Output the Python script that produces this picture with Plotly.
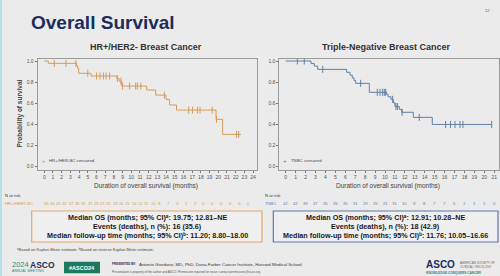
import numpy as np
import plotly.graph_objects as go

# ---------------- data ----------------
hr_times = [0, 0.46, 3.72, 3.84, 3.95, 5.37, 8.35, 8.6, 8.9, 11.77, 12.8, 13.99, 14.4, 15.2, 19.74, 20.5, 22.6]
hr_surv = [1.0, 0.978, 0.955, 0.93, 0.884, 0.858, 0.835, 0.81, 0.763, 0.726, 0.678, 0.637, 0.584, 0.536, 0.448, 0.306, 0.306]
hr_censor = [1.15, 2.5, 3.64, 5.0, 6.0, 6.4, 6.8, 7.1, 7.5, 8.4, 8.8, 9.0, 9.8, 10.5, 10.7, 11.1,
             13.8, 16.6, 17.05, 17.6, 17.9, 19.3, 19.8, 22.1, 22.35]

tn_times = [0, 2.55, 2.88, 3.22, 6.14, 6.47, 6.7, 6.88, 7.05, 8.42, 10.17, 10.3, 10.6, 10.83, 11.0, 11.44, 11.68, 12.85, 14.76, 20.74]
tn_surv = [1.0, 0.976, 0.952, 0.921, 0.893, 0.867, 0.84, 0.815, 0.789, 0.704, 0.685, 0.662, 0.638, 0.605, 0.57, 0.543, 0.515, 0.467, 0.40, 0.40]
tn_censor = [1.17, 1.87, 3.73, 7.55, 9.22, 9.5, 9.76, 9.93, 10.07, 10.77, 11.1, 11.25, 11.72,
             13.45, 16.1, 16.6, 17.05, 17.55, 17.85, 20.74]

hr_ticks = list(range(0, 25))
tn_ticks = list(range(0, 22))
y_ticks = [0.0, 0.2, 0.4, 0.6, 0.8, 1.0]

hr_risk = [45, 44, 43, 42, 37, 36, 35, 31, 29, 22, 20, 18, 16, 15, 14, 12, 11, 10, 8, 7, 3, 2, 2, 0, 0, 0, 0, 0, 0]
tn_risk = [42, 42, 39, 37, 35, 35, 35, 31, 29, 25, 21, 15, 10, 9, 8, 7, 7, 5, 1, 1, 1, 0]

hr_box = ["Median OS (months; 95% CI)ᵃ: 19.75; 12.81–NE",
          "Events (deaths), n (%): 16 (35.6)",
          "Median follow-up time (months; 95% CI)ᵇ: 11.20; 8.80–18.00"]
tn_box = ["Median OS (months; 95% CI)ᵃ: 12.91; 10.28–NE",
          "Events (deaths), n (%): 18 (42.9)",
          "Median follow-up time (months; 95% CI)ᵇ: 11.76; 10.05–16.66"]

# ---------------- style ----------------
BG = "#ebebeb"
ORANGE = "#d49c5a"
BLUE = "#5f80a6"
NAVY = "#1c2d5a"
TEAL = "#1f8a8a"
FONT = "Arial, Liberation Sans, sans-serif"
W, H = 500, 276


def X(px):
    return px / W


def Y(py):
    return 1 - py / H


def step_at(times, surv, t):
    i = np.searchsorted(np.array(times), t, side="right") - 1
    return surv[max(i, 0)]


fig = go.Figure()

# curves
fig.add_trace(go.Scatter(x=hr_times, y=hr_surv, mode="lines", line=dict(color=ORANGE, width=1, shape="hv"),
                         xaxis="x", yaxis="y", showlegend=False))
fig.add_trace(go.Scatter(x=hr_censor, y=[step_at(hr_times, hr_surv, c) for c in hr_censor], mode="markers",
                         marker=dict(symbol="line-ns", size=5, line=dict(color=ORANGE, width=1)),
                         xaxis="x", yaxis="y", showlegend=False))
fig.add_trace(go.Scatter(x=tn_times, y=tn_surv, mode="lines", line=dict(color=BLUE, width=1, shape="hv"),
                         xaxis="x2", yaxis="y2", showlegend=False))
fig.add_trace(go.Scatter(x=tn_censor, y=[step_at(tn_times, tn_surv, c) for c in tn_censor], mode="markers",
                         marker=dict(symbol="line-ns", size=5, line=dict(color=BLUE, width=1)),
                         xaxis="x2", yaxis="y2", showlegend=False))

axis_common = dict(showline=True, mirror=True, linecolor="#9a9a9a", linewidth=0.8, showgrid=False,
                   zeroline=False, ticks="outside", ticklen=2, tickcolor="#777", tickwidth=0.6,
                   tickfont=dict(size=5, color="#555", family=FONT))

yd = [Y(170), Y(58.7)]
yr = [-0.031, 1.022]
fig.update_layout(
    width=W, height=H, margin=dict(l=0, r=0, t=0, b=0),
    paper_bgcolor=BG, plot_bgcolor=BG, font=dict(family=FONT),
    xaxis=dict(domain=[X(37.5), X(257)], range=[-0.78, 24.45], tickvals=hr_ticks, **axis_common),
    yaxis=dict(domain=yd, range=yr, tickvals=y_ticks, ticktext=[f"{v:.1f}" for v in y_ticks], **axis_common),
    xaxis2=dict(domain=[X(279.3), X(499)], range=[-0.645, 21.48], tickvals=tn_ticks, anchor="y2", **axis_common),
    yaxis2=dict(domain=yd, range=yr, tickvals=y_ticks, ticktext=[f"{v:.1f}" for v in y_ticks], anchor="x2",
                **axis_common),
)

ann = []


def text(px, py, s, size, color="#333", bold=False, xanchor="center", **kw):
    if bold:
        s = f"<b>{s}</b>"
    ann.append(dict(x=X(px), y=Y(py), xref="paper", yref="paper", text=s, showarrow=False,
                    xanchor=xanchor, yanchor="middle", font=dict(size=size, color=color, family=FONT), **kw))


# titles
text(29, 22.5, "Overall Survival", 19, NAVY, bold=True, xanchor="left")
text(487, 11, "12", 4, "#666")
text(145.5, 46.7, "HR+/HER2- Breast Cancer", 9, "#333", bold=True)
text(386, 46.7, "Triple-Negative Breast Cancer", 9, "#333", bold=True)

# axis titles
text(146, 186, "Duration of overall survival (months)", 6.5, "#444")
text(388, 186, "Duration of overall survival (months)", 6.5, "#444")
text(19.5, 114, "Probability of survival", 6.5, "#444", bold=True, textangle=-90)

# in-plot legends
text(43.5, 160.5, "+", 6, ORANGE)
text(47, 160.8, "HR+/HER-BC censored", 4.3, "#444", xanchor="left")
text(285, 160.5, "+", 6, BLUE)
text(289, 160.8, "TNBC censored", 4.3, "#444", xanchor="left")

# N at risk
text(3, 195, "N at risk", 4.2, "#333", xanchor="left")
text(3, 203, "HR+/HER2-BC", 4.2, ORANGE, xanchor="left")
pos = 46.0
for i, v in enumerate(hr_risk):
    text(pos, 203, str(v), 4.2, ORANGE)
    pos += 6.3 if v >= 10 else 8.9
text(262.5, 195, "N at risk", 4.2, "#333", xanchor="left")
text(262.5, 203, "TNBC", 4.2, BLUE, xanchor="left")
for t, v in zip(tn_ticks, tn_risk):
    ann.append(dict(x=t, y=Y(203), xref="x2", yref="paper", text=str(v), showarrow=False,
                    xanchor="center", yanchor="middle", font=dict(size=4.2, color=BLUE, family=FONT)))

# summary boxes
shapes = []
shapes.append(dict(type="rect", xref="paper", yref="paper", x0=X(31.7), x1=X(262), y0=Y(242), y1=Y(211),
                   line=dict(color="#e3a86a", width=1.2), fillcolor="#efefef", layer="below"))
shapes.append(dict(type="rect", xref="paper", yref="paper", x0=X(273.3), x1=X(498), y0=Y(242), y1=Y(211),
                   line=dict(color="#5a7aa8", width=1.2), fillcolor="#efefef", layer="below"))
for i, s in enumerate(hr_box):
    text(147, 217 + 9.2 * i, s, 7.2, "#1a1a1a", bold=True)
for i, s in enumerate(tn_box):
    text(385.7, 217 + 9.2 * i, s, 7.2, "#1a1a1a", bold=True)

# footnote
text(15, 249, "ᵃBased on Kaplan-Meier estimate. ᵇBased on reverse Kaplan-Meier estimate.",
     4, "#444", xanchor="left")

# footer
text(10, 264.5, "2024", 7.5, TEAL, xanchor="left")
text(27.5, 264.5, "ASCO", 8.5, NAVY, bold=True, xanchor="left")
text(10, 271, "ANNUAL MEETING", 3.6, TEAL, xanchor="left")
shapes.append(dict(type="rect", xref="paper", yref="paper", x0=X(64), x1=X(100), y0=Y(273.3), y1=Y(261.7),
                   line=dict(width=0), fillcolor="#1d7a60"))
text(82, 267.5, "#ASCO24", 5.5, "white", bold=True)
text(110, 264.3, "PRESENTED BY:", 3, NAVY, bold=True, xanchor="left")
text(136.5, 264.3, "Antonio Giordano, MD, PhD, Dana-Farber Cancer Institute, Harvard Medical School", 4.4,
     "#333", xanchor="left")
text(110, 271.5, "Presentation is property of the author and ASCO. Permission required for reuse; contact permissions@asco.org",
     3, "#555", xanchor="left")
text(424, 264.3, "ASCO", 10, NAVY, bold=True, xanchor="left")
text(458, 262.8, "AMERICAN SOCIETY OF", 3, "#666", xanchor="left")
text(458, 266.6, "CLINICAL ONCOLOGY", 3, "#666", xanchor="left")
text(424, 272.6, "KNOWLEDGE CONQUERS CANCER", 3.2, TEAL, bold=True, xanchor="left")

# left accent stripe
shapes.append(dict(type="rect", xref="paper", yref="paper", x0=0, x1=X(2), y0=0, y1=1,
                   line=dict(width=0), fillcolor="#b9e0e8"))

fig.update_layout(annotations=ann, shapes=shapes)
fig.write_html("out.html")
